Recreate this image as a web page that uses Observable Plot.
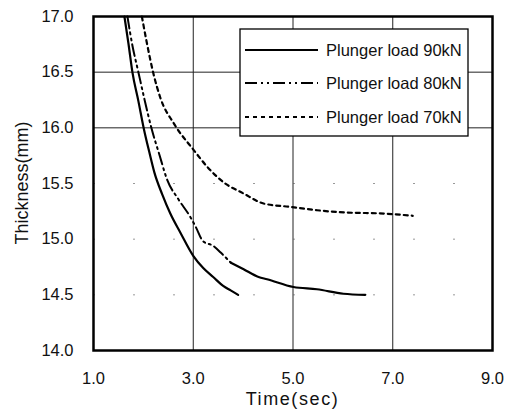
<!DOCTYPE html>
<html>
<head>
<meta charset="utf-8">
<script src="https://cdn.jsdelivr.net/npm/d3@7"></script>
<script src="https://cdn.jsdelivr.net/npm/@observablehq/plot@0.6"></script>
<style>
  html, body { margin: 0; padding: 0; background: #fff; }
  #chart { width: 509px; height: 412px; }
  svg { font-family: "Liberation Sans", Arial, sans-serif; }
</style>
</head>
<body>
<div id="chart"></div>
<script>
// Series: Plunger load 90 kN (solid)
const t90 = [1.62, 1.70, 1.78, 1.90, 2.01, 2.12, 2.22, 2.38, 2.54, 2.74, 3.00, 3.20, 3.40, 3.60, 3.75, 3.90];
const y90 = [17.00, 16.76, 16.50, 16.24, 15.99, 15.78, 15.60, 15.40, 15.23, 15.06, 14.85, 14.74, 14.66, 14.58, 14.54, 14.50];

// Series: Plunger load 80 kN (dash-dot)
const t80 = [1.68, 1.78, 1.90, 2.03, 2.16, 2.32, 2.48, 2.70, 2.94, 3.05, 3.20, 3.40, 3.55, 3.75, 4.01, 4.31, 4.48, 5.01, 5.48, 6.01, 6.45];
const y80 = [17.00, 16.74, 16.50, 16.24, 16.00, 15.76, 15.53, 15.36, 15.20, 15.11, 14.98, 14.94, 14.88, 14.79, 14.73, 14.66, 14.64, 14.57, 14.55, 14.51, 14.50];

// Series: Plunger load 70 kN (short dashes)
const t70 = [1.97, 2.08, 2.20, 2.34, 2.61, 3.01, 3.30, 3.61, 4.01, 4.41, 4.95, 5.48, 6.02, 6.82, 7.40];
const y70 = [17.00, 16.74, 16.49, 16.27, 16.04, 15.80, 15.64, 15.51, 15.41, 15.32, 15.29, 15.26, 15.24, 15.23, 15.21];

// Axis ticks
const xTicks = [1, 3, 5, 7, 9];
const yTicks = [14.0, 14.5, 15.0, 15.5, 16.0, 16.5, 17.0];
const yGridStrong = [16.0, 16.5];
const yGridFaint = [14.5, 15.0, 15.5];
const xGrid = [3, 5, 7];

const seriesLabels = ["Plunger load 90kN", "Plunger load 80kN", "Plunger load 70kN"];
const seriesDash = [null, "12,4,2,4,2,4", "4,4"];

const toRows = (ts, ys) => ts.map((t, i) => ({t, y: ys[i]}));
const d90 = toRows(t90, y90);
const d80 = toRows(t80, y80);
const d70 = toRows(t70, y70);

const plot = Plot.plot({
  width: 509,
  height: 412,
  marginLeft: 93,
  marginRight: 17,
  marginTop: 16,
  marginBottom: 62,
  style: {fontFamily: "'Liberation Sans', Arial, sans-serif", fontSize: "16.5px", color: "#111", background: "#fff"},
  x: {domain: [1, 9]},
  y: {domain: [14, 17]},
  marks: [
    Plot.gridX(xGrid, {stroke: "#222", strokeOpacity: 1, strokeWidth: 1}),
    Plot.gridY(yGridStrong, {stroke: "#222", strokeOpacity: 1, strokeWidth: 1}),
    Plot.gridY(yGridFaint, {stroke: "#555", strokeOpacity: 0.6, strokeWidth: 1, strokeDasharray: "2,38"}),
    Plot.line(d90, {x: "t", y: "y", stroke: "#000", strokeWidth: 2.2, curve: "monotone-x"}),
    Plot.line(d80, {x: "t", y: "y", stroke: "#000", strokeWidth: 2, strokeDasharray: seriesDash[1], curve: "monotone-x", filter: d => d.t <= 3.76}),
    Plot.line(d80, {x: "t", y: "y", stroke: "#000", strokeWidth: 2.2, curve: "monotone-x", filter: d => d.t >= 3.74}),
    Plot.line(d70, {x: "t", y: "y", stroke: "#000", strokeWidth: 2.2, strokeDasharray: seriesDash[2], curve: "monotone-x"}),
    Plot.frame({stroke: "#000", strokeWidth: 2.5}),
    Plot.axisX(xTicks, {tickSize: 0, tickPadding: 22, tickFormat: d => d.toFixed(1), fontSize: 16.5, label: null}),
    Plot.axisY(yTicks, {tickSize: 0, tickPadding: 20, tickFormat: d => d.toFixed(1), fontSize: 16.5, label: null})
  ]
});

document.getElementById("chart").appendChild(plot);

const svg = d3.select(plot);
// Axis titles
svg.append("text")
  .attr("x", 292.5).attr("y", 405)
  .attr("text-anchor", "middle")
  .attr("font-size", 18).attr("letter-spacing", "1.6px")
  .attr("fill", "#111")
  .text("Time(sec)");
svg.append("text")
  .attr("transform", "translate(28,183) rotate(-90)")
  .attr("text-anchor", "middle")
  .attr("font-size", 18)
  .attr("fill", "#111")
  .text("Thickness(mm)");

// Legend box
const lg = svg.append("g");
lg.append("rect")
  .attr("x", 240).attr("y", 29).attr("width", 228).attr("height", 107)
  .attr("fill", "#fff").attr("stroke", "#000").attr("stroke-width", 1.3);
const rowsY = [50, 83, 117];
seriesLabels.forEach((lab, i) => {
  lg.append("line")
    .attr("x1", 245).attr("x2", 318).attr("y1", rowsY[i]).attr("y2", rowsY[i])
    .attr("stroke", "#000").attr("stroke-width", 2)
    .attr("stroke-dasharray", seriesDash[i]);
  lg.append("text")
    .attr("x", 326).attr("y", rowsY[i]).attr("dy", "0.35em")
    .attr("text-anchor", "start")
    .attr("font-size", 16.5).attr("fill", "#111")
    .text(lab);
});
</script>
</body>
</html>
